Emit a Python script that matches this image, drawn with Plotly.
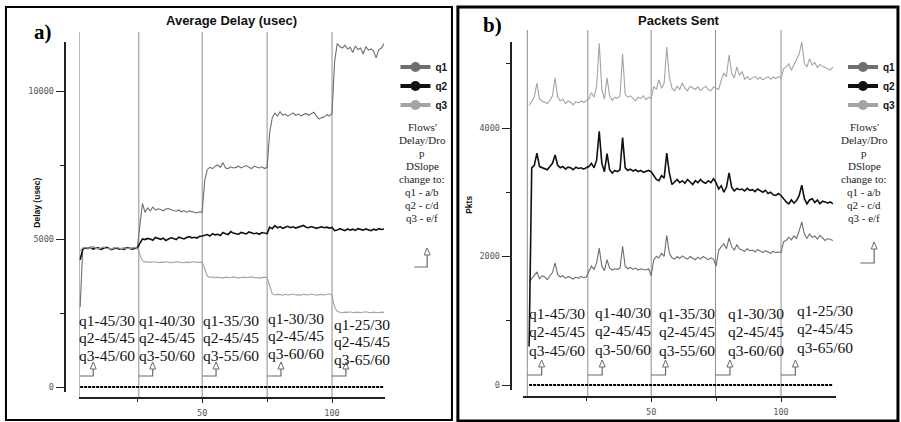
import plotly.graph_objects as go

W, H = 901, 422

# ---------------------------------------------------------------- data
# sample times (s); one sample per second, five DSlope phases
time = list(range(3, 121))

# a) average queueing delay per queue (usec)
delay_q1 = ([2700, 4690, 4720, 4680, 4710, 4740, 4700, 4660, 4690, 4730, 4700, 4680, 4650, 4700, 4720, 4690, 4670, 4700, 4710, 4680, 4690, 4720, 4700]
            + [5400, 6200, 5900, 6050, 5950, 6080, 5980, 6020, 6000, 5950, 6010, 6030, 5990, 5960, 5940, 5980, 5920, 5960, 5900, 5950, 5930, 5900, 5880, 5920, 5900]
            + [7000, 7350, 7420, 7380, 7460, 7500, 7420, 7580, 7400, 7380, 7440, 7400, 7420, 7460, 7400, 7430, 7480, 7420, 7380, 7460, 7420, 7400, 7440, 7380, 7420]
            + [8600, 9100, 9250, 9150, 9300, 9180, 9220, 9150, 9200, 9260, 9180, 9220, 9160, 9200, 9240, 9180, 9220, 9280, 9150, 9050, 9100, 9120, 9200, 9150, 9250]
            + [11000, 11600, 11500, 11450, 11550, 11420, 11480, 11300, 11520, 11400, 11450, 11250, 11500, 11380, 11420, 11350, 11120, 11400, 11450, 11600])
delay_q2 = ([4300, 4650, 4700, 4680, 4720, 4660, 4690, 4700, 4650, 4680, 4720, 4690, 4640, 4670, 4700, 4660, 4680, 4650, 4700, 4690, 4660, 4680, 4700]
            + [4850, 5000, 4980, 5020, 5000, 4960, 5050, 5010, 4990, 5030, 4950, 5000, 5040, 5020, 4980, 5060, 5030, 5000, 5050, 5080, 5040, 5060, 5030, 5090, 5100]
            + [5120, 5150, 5100, 5180, 5140, 5160, 5120, 5220, 5180, 5150, 5250, 5200, 5180, 5160, 5220, 5200, 5170, 5240, 5210, 5180, 5200, 5160, 5220, 5200, 5180]
            + [5400, 5350, 5450, 5380, 5420, 5360, 5400, 5430, 5380, 5410, 5370, 5400, 5440, 5460, 5400, 5380, 5420, 5400, 5360, 5390, 5410, 5380, 5400, 5370, 5390]
            + [5280, 5300, 5350, 5320, 5280, 5340, 5300, 5330, 5290, 5350, 5320, 5300, 5340, 5310, 5280, 5330, 5300, 5350, 5320, 5340])
delay_q3 = ([4600, 4700, 4710, 4690, 4700, 4730, 4690, 4670, 4700, 4720, 4690, 4680, 4660, 4700, 4710, 4690, 4680, 4700, 4690, 4670, 4700, 4710, 4690]
            + [4500, 4260, 4220, 4230, 4210, 4220, 4230, 4200, 4220, 4210, 4230, 4220, 4200, 4210, 4230, 4220, 4210, 4200, 4220, 4210, 4230, 4220, 4200, 4210, 4220]
            + [3950, 3750, 3700, 3720, 3690, 3710, 3700, 3680, 3710, 3700, 3690, 3720, 3700, 3680, 3700, 3710, 3690, 3700, 3720, 3690, 3700, 3680, 3700, 3710, 3690]
            + [3400, 3150, 3110, 3130, 3120, 3100, 3130, 3110, 3120, 3140, 3110, 3120, 3100, 3130, 3120, 3110, 3140, 3120, 3100, 3120, 3130, 3110, 3120, 3150, 3100]
            + [2700, 2550, 2520, 2510, 2530, 2520, 2540, 2510, 2520, 2530, 2510, 2520, 2540, 2520, 2510, 2530, 2520, 2510, 2530, 2520])
delay_drop = [0] * 118

# b) packets sent per queue
pkts_q1 = ([1600, 1650, 1700, 1760, 1650, 1700, 1680, 1640, 1700, 1750, 1900, 1720, 1680, 1700, 1660, 1690, 1670, 1650, 1680, 1660, 1690, 1670, 1680]
           + [1780, 1850, 1800, 1900, 2130, 1850, 1780, 1950, 1820, 1790, 1810, 1800, 1820, 2160, 1850, 1810, 1830, 1800, 1820, 1790, 1810, 1800, 1790, 1810, 1700]
           + [1950, 2000, 1980, 2050, 2000, 2330, 2050, 1980, 1960, 2000, 1970, 2010, 1980, 1960, 2000, 1970, 1950, 1990, 1960, 2000, 1970, 1950, 1980, 1960, 1850]
           + [2100, 2150, 2200, 2120, 2290, 2150, 2100, 2180, 2120, 2100, 2080, 2120, 2090, 2100, 2070, 2110, 2080, 2060, 2090, 2070, 2050, 2080, 2060, 2070, 2060]
           + [2230, 2250, 2300, 2260, 2320, 2280, 2400, 2540, 2350, 2280, 2350, 2300, 2320, 2270, 2330, 2290, 2250, 2280, 2260, 2250])
pkts_q2 = ([600, 3380, 3420, 3610, 3400, 3380, 3360, 3350, 3400, 3450, 3580, 3420, 3380, 3400, 3360, 3390, 3380, 3350, 3390, 3370, 3380, 3360, 3380]
           + [3400, 3450, 3380, 3500, 3950, 3450, 3320, 3600, 3350, 3300, 3340, 3320, 3350, 3850, 3380, 3340, 3360, 3330, 3350, 3320, 3340, 3310, 3330, 3340, 3320]
           + [3250, 3200, 3180, 3260, 3220, 3610, 3300, 3120, 3160, 3200, 3150, 3180, 3140, 3200, 3160, 3120, 3180, 3150, 3200, 3160, 3140, 3180, 3150, 3210, 3150]
           + [3050, 3100, 3000, 3080, 3300, 3080, 3020, 3060, 3040, 3050, 3020, 3060, 3030, 3040, 3010, 3050, 3020, 3000, 3030, 2980, 3000, 2960, 2950, 2980, 2950]
           + [2900, 2850, 2820, 2880, 2830, 2870, 2950, 3110, 2900, 2820, 2880, 2900, 2840, 2880, 2820, 2860, 2850, 2830, 2850, 2820])
pkts_q3 = ([4350, 4420, 4480, 4700, 4450, 4420, 4400, 4380, 4430, 4500, 4780, 4480, 4420, 4450, 4380, 4420, 4400, 4360, 4410, 4390, 4420, 4400, 4420]
           + [4450, 4550, 4480, 4650, 5320, 4600, 4450, 4780, 4500, 4430, 4480, 4460, 4500, 5150, 4520, 4480, 4500, 4460, 4420, 4480, 4460, 4500, 4440, 4480, 4460]
           + [4650, 4600, 4750, 4620, 4700, 5260, 4800, 4620, 4580, 4650, 4600, 4700, 4620, 4580, 4650, 4620, 4600, 4640, 4580, 4620, 4650, 4600, 4580, 4640, 4620]
           + [4600, 4750, 4850, 4800, 5140, 4850, 4780, 4950, 4820, 4880, 4760, 4800, 4750, 4780, 4800, 4760, 4790, 4750, 4780, 4800, 4760, 4790, 4770, 4800, 4780]
           + [4920, 4950, 5000, 4900, 4980, 5050, 5150, 5340, 5000, 4950, 5080, 4980, 5020, 4940, 4990, 4960, 4940, 4920, 4900, 4950])
pkts_drop = [0] * 118

# times at which the DSlope settings were changed
events_a = [2.7, 25.6, 50, 75, 100]
events_b = [2.3, 25.6, 50, 74.8, 100]

# delay / DSlope settings applied at each change
q1_settings = ["45/30", "40/30", "35/30", "30/30", "25/30"]
q2_settings = ["45/45", "45/45", "45/45", "45/45", "45/45"]
q3_settings = ["45/60", "50/60", "55/60", "60/60", "65/60"]

queue_names = ["q1", "q2", "q3"]
side_note = ["Flows'", "Delay/Dro", "p", "DSlope", "change to:", "q1 - a/b", "q2 - c/d", "q3 - e/f"]

y_ticks_a = [0, 5000, 10000]
y_minor_a = [2500, 7500]
y_ticks_b = [0, 2000, 4000]
y_minor_b = [1000, 3000, 5000]
x_ticks = [50, 100]
x_minor = [25, 75]

# ---------------------------------------------------------------- style
C_Q = ["#6e6e6e", "#111111", "#a4a4a4"]
C_EVENT = "#8e8e8e"
C_AXIS = "#222222"
SERIF = "Liberation Serif, Times New Roman, serif"
SANS = "Liberation Sans, Arial, sans-serif"
NARROW = "Liberation Sans Narrow, Liberation Sans, Arial, sans-serif"
TICK_FONT = dict(family="DejaVu Sans Mono, monospace", size=8.5, color="#555555")


def px(x):
    return x / W


def py(y):
    return 1 - y / H


PPU = 2.62                       # pixels per second on both time axes
A_X0, A_Y0, A_YS = 73, 387, 148 / 5000   # panel a: x origin px, y origin px, px per usec
B_X0, B_Y0, B_YS = 526, 385, 257 / 4000  # panel b: x origin px, y origin px, px per packet

fig = go.Figure()

panels = [
    ("x", "y", "legend", [delay_q1, delay_q2, delay_q3], delay_drop),
    ("x2", "y2", "legend2", [pkts_q1, pkts_q2, pkts_q3], pkts_drop),
]
for xa, ya, leg, series, drop in panels:
    fig.add_trace(go.Scatter(x=time, y=drop, mode="lines", xaxis=xa, yaxis=ya,
                             line=dict(color="#000000", width=2, dash="3px,1px"),
                             showlegend=False, hoverinfo="skip"))
    for name, vals, col in zip(queue_names, series, C_Q):
        fig.add_trace(go.Scatter(x=time, y=vals, mode="lines", xaxis=xa, yaxis=ya,
                                 line=dict(color=col, width=1.6 if name == "q2" else 1.1),
                                 showlegend=False, name=name))
    for name, col in zip(queue_names, C_Q):
        fig.add_trace(go.Scatter(x=[None], y=[None], mode="lines+markers", xaxis=xa, yaxis=ya,
                                 name=f"<b>{name}</b>", legend=leg,
                                 line=dict(color=col, width=4),
                                 marker=dict(color=col, size=10, symbol="circle")))


def x_axis(dom_px, x0, pos_px):
    return dict(domain=[px(dom_px[0]), px(dom_px[1])],
                range=[(dom_px[0] - x0) / PPU, (dom_px[1] - x0) / PPU],
                anchor="free", position=py(pos_px),
                showline=True, linecolor=C_AXIS, linewidth=1.5,
                ticks="outside", ticklen=4, tickcolor=C_AXIS,
                tickmode="array", tickvals=x_ticks, ticktext=[str(v) for v in x_ticks],
                minor=dict(tickmode="array", tickvals=x_minor, ticks="outside",
                           ticklen=3, tickcolor=C_AXIS),
                showgrid=False, zeroline=False, tickfont=TICK_FONT,
                ticklabelstandoff=3, fixedrange=True)


def y_axis(dom_px, y0, ys, pos_px, major, minor):
    return dict(domain=[py(dom_px[0]), py(dom_px[1])],
                range=[(y0 - dom_px[0]) / ys, (y0 - dom_px[1]) / ys],
                anchor="free", position=px(pos_px),
                showline=True, linecolor=C_AXIS, linewidth=1.5,
                ticks="outside", ticklen=9, tickcolor=C_AXIS,
                tickmode="array", tickvals=major, ticktext=[str(v) for v in major],
                minor=dict(tickmode="array", tickvals=minor, ticks="outside",
                           ticklen=5, tickcolor=C_AXIS),
                showgrid=False, zeroline=False, tickfont=TICK_FONT, fixedrange=True)


shapes = []
annotations = []

# panel frames
shapes.append(dict(type="rect", xref="paper", yref="paper", x0=px(6), x1=px(456),
                   y0=py(420), y1=py(7), line=dict(color="#000000", width=2)))
shapes.append(dict(type="rect", xref="paper", yref="paper", x0=px(462), x1=px(906),
                   y0=py(421), y1=py(7), line=dict(color="#000000", width=3)))


def open_arrow(xref, x_start, x_end, y_base, y_tip, half_w, head_h):
    """L-shaped pointer: horizontal run, then up to an open triangular head."""
    ys = "paper"
    shapes.append(dict(type="path", xref=xref, yref=ys, layer="above",
                       path=f"M {x_start},{py(y_base)} L {x_end},{py(y_base)} L {x_end},{py(y_tip + head_h)}",
                       line=dict(color="#6a6a6a", width=1.2)))
    shapes.append(dict(type="path", xref=xref, yref=ys, layer="above",
                       path=(f"M {x_end - half_w},{py(y_tip + head_h)} L {x_end},{py(y_tip)} "
                             f"L {x_end + half_w},{py(y_tip + head_h)} Z"),
                       fillcolor="#ffffff", line=dict(color="#6a6a6a", width=1)))


panel_cfg = [
    # xaxis, events, line top px, line bottom px, arrow y, arrow tip, arrow run px,
    # text anchors (left px, first line px), line spacing px
    ("x", events_a, 32, 398, 376, 362, 14,
     [(78, 320), (138, 320), (203, 320), (268, 318), (335, 324)], 17.8),
    ("x2", events_b, 30, 397, 375, 360, 14.5,
     [(532, 313), (598, 312), (663, 313), (733, 313), (802, 310)], 18.5),
]
for xa, evs, top, bot, a_y, a_tip, a_len, anchors, step in panel_cfg:
    for i, e in enumerate(evs):
        shapes.append(dict(type="line", xref=xa, yref="paper", x0=e, x1=e,
                           y0=py(bot), y1=py(top), layer="below",
                           line=dict(color=C_EVENT, width=1)))
        open_arrow(xa, e, e + a_len / PPU, a_y, a_tip, 3 / PPU, 7)
        lx, ly = anchors[i]
        lines = [f"q1-{q1_settings[i]}", f"q2-{q2_settings[i]}", f"q3-{q3_settings[i]}"]
        for k, t in enumerate(lines):
            annotations.append(dict(text=t, xref="paper", yref="paper", x=px(lx), y=py(ly + k * step),
                                    xanchor="left", yanchor="middle", showarrow=False,
                                    font=dict(family=SERIF, size=15.5, color="#111111")))

# side notes and their pointers
for cx, arrow in [(426, (418, 431, 267, 248)), (872, (868, 882, 263, 242))]:
    ny = [127, 140, 153, 166, 179, 192, 205, 218]
    for t, y in zip(side_note, ny):
        annotations.append(dict(text=t, xref="paper", yref="paper", x=px(cx), y=py(y),
                                xanchor="center", yanchor="middle", showarrow=False,
                                font=dict(family=SERIF, size=11, color="#222222")))
    x0, x1, yb, yt = arrow
    open_arrow("paper", px(x0), px(x1), yb, yt, 3 / W, 7)

# titles, panel letters, axis titles
for text, x, y, font in [
    ("Average Delay (usec)", 234, 20, dict(family=SANS, size=13, color="#111111", weight="bold")),
    ("Packets Sent", 685, 20, dict(family=SANS, size=13, color="#111111", weight="bold")),
    ("a)", 43, 32, dict(family=SERIF, size=21, color="#000000", weight="bold")),
    ("b)", 497, 25, dict(family=SERIF, size=21, color="#000000", weight="bold")),
]:
    annotations.append(dict(text=text, xref="paper", yref="paper", x=px(x), y=py(y),
                            xanchor="center", yanchor="middle", showarrow=False, font=font))
for text, x, y in [("Delay (usec)", 37, 203), ("Pkts", 473, 205)]:
    annotations.append(dict(text=text, xref="paper", yref="paper", x=px(x), y=py(y),
                            textangle=-90, xanchor="center", yanchor="middle", showarrow=False,
                            font=dict(family=NARROW, size=8.5, color="#111111", weight="bold")))

legend_style = dict(xanchor="left", yanchor="top", bgcolor="rgba(0,0,0,0)",
                    font=dict(family=SANS, size=10, color="#111111"),
                    itemclick=False, itemdoubleclick=False, tracegroupgap=0)

fig.update_layout(
    width=W, height=H,
    margin=dict(l=0, r=0, t=0, b=0),
    paper_bgcolor="#ffffff", plot_bgcolor="rgba(0,0,0,0)",
    font=dict(family=SANS),
    xaxis=x_axis((80, 388), A_X0, 398),
    yaxis=y_axis((392, 42), A_Y0, A_YS, 66, y_ticks_a, y_minor_a),
    xaxis2=x_axis((528, 843), B_X0, 397),
    yaxis2=y_axis((390, 42), B_Y0, B_YS, 516, y_ticks_b, y_minor_b),
    legend=dict(x=px(399), y=py(52.5), **legend_style),
    legend2=dict(x=px(851), y=py(52.5), **legend_style),
    shapes=shapes,
    annotations=annotations,
    hovermode=False,
)

fig.write_html("out.html")
